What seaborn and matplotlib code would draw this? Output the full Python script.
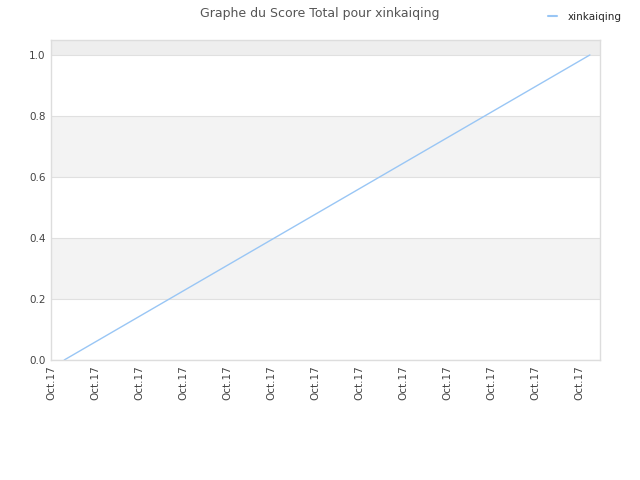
import matplotlib
matplotlib.use("Agg")
import matplotlib.pyplot as plt
import seaborn as sns
import pandas as pd
import numpy as np

title = "Graphe du Score Total pour xinkaiqing"
series_name = "xinkaiqing"
x_values = [0.3, 12.25]
y_values = [0.0, 1.0]
tick_positions = list(range(13))
tick_labels = ["Oct.17"] * 13
y_ticks = [0.0, 0.2, 0.4, 0.6, 0.8, 1.0]

sns.set_theme(style="white")
plt.rcParams['font.family'] = ['DejaVu Sans']

df = pd.DataFrame({"x": x_values, "score": y_values, "name": series_name})

fig = plt.figure(figsize=(6.4, 4.8), dpi=100)
ax = fig.add_axes([51/640, 120/480, 549/640, 320/480])

ymax = 1.049
# alternating bands
bands = [(0.0, 0.2, "#ffffff"), (0.2, 0.4, "#f3f3f3"), (0.4, 0.6, "#ffffff"),
         (0.6, 0.8, "#f3f3f3"), (0.8, 1.0, "#ffffff"), (1.0, ymax, "#eeeeee")]
for lo, hi, c in bands:
    ax.axhspan(lo, hi, color=c, zorder=0, lw=0)
for yt in y_ticks:
    ax.axhline(yt, color="#e0e0e0", lw=0.8, zorder=0.5)

sns.lineplot(data=df, x="x", y="score", hue="name", palette=["#99c6f5"], ax=ax,
             linewidth=1.0, legend=False, zorder=2)

ax.set_xlim(0, 12.48)
ax.set_ylim(0, ymax)
ax.set_xticks(tick_positions)
ax.set_xticklabels(tick_labels, rotation=90, fontsize=7.5, color="#444444")
ax.set_yticks(y_ticks)
ax.set_yticklabels([f"{v:.1f}" for v in y_ticks], fontsize=7.5, color="#444444")
ax.tick_params(axis="both", length=0, pad=4)
ax.set_xlabel("")
ax.set_ylabel("")
for s in ax.spines.values():
    s.set_color("#dddddd")
    s.set_linewidth(1.0)

fig.text(0.5, 1 - 14/480, title, ha="center", va="center", fontsize=9, color="#555555")

from matplotlib.lines import Line2D
h = [Line2D([0], [0], color="#99c6f5", lw=1.5)]
fig.legend(h, [series_name], loc="center right", bbox_to_anchor=(1 - 14/640, 1 - 17/480),
           frameon=False, fontsize=7.5, handlelength=0.9, handletextpad=1.0, borderaxespad=0)

fig.savefig("out.png", dpi=100)
